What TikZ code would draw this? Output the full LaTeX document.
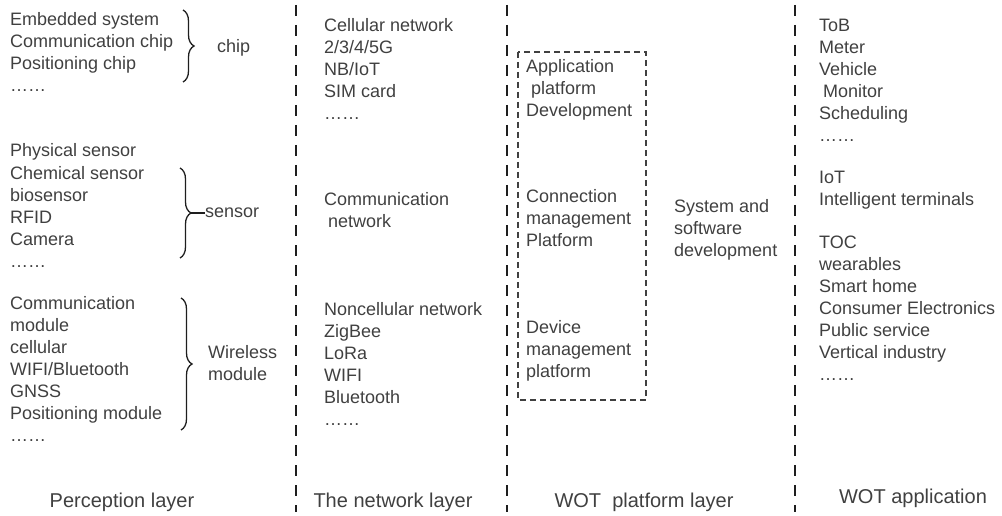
\documentclass[tikz,border=0pt]{standalone}
\usepackage{fontspec}
\setmainfont{Liberation Sans}
\usepackage{xcolor}
\usetikzlibrary{decorations.pathreplacing, positioning, calc}
\definecolor{txtgray}{HTML}{404040}
\definecolor{linegray}{HTML}{1E1E1E}

\begin{document}
\begin{tikzpicture}[x=1pt, y=-1pt,
    item/.style={anchor=base west, inner sep=0pt, font=\fontsize{18}{22}\selectfont, text=txtgray},
    layername/.style={anchor=base, inner sep=0pt, font=\fontsize{20}{24}\selectfont, text=txtgray},
    divider/.style={draw=linegray, line width=1.8pt, dash pattern=on 11pt off 9pt},
    curly/.style={draw=linegray, line width=1.3pt, decorate, decoration={brace, amplitude=11pt}},
    platbox/.style={draw=txtgray, line width=1.2pt, dash pattern=on 6pt off 4pt}]
    \useasboundingbox (0,0) rectangle (1002,516);

    % Layer dividers
    \foreach \x in {296, 507, 795} {
        \draw[divider] (\x,5) -- (\x,512);
    }

    % Perception layer items
    \foreach \label [count=\i] in {Embedded system, Communication chip, Positioning chip, ……}
        \node[item] (chip\i) at (10, 4+22*\i) {\label};
    \foreach \label [count=\i] in {Physical sensor, Chemical sensor, biosensor, RFID, Camera, ……}
        \node[item] (sens\i) at (10, 135+22*\i) {\label};
    \foreach \label [count=\i] in {Communication, module, cellular, {WIFI/Bluetooth}, GNSS, Positioning module, ……}
        \node[item] (wmod\i) at (10, 287+22*\i) {\label};

    % Braces and group names
    \coordinate (chipT) at (183,10);
    \coordinate (chipB) at (183,82);
    \draw[curly] (chipT) -- (chipB);
    \node[item] (chip) at (217,53) {chip};

    \coordinate (sensT) at (180,168);
    \coordinate (sensB) at (180,258);
    \draw[curly] (sensT) -- (sensB);
    \node[item] (sensor) at (205,218) {sensor};
    \coordinate (sensTip) at ($(sensT)!0.5!(sensB)+(11,0)$);
    \draw[linegray, line width=1.3pt] (sensTip) -- (sensTip -| sensor.west);

    \coordinate (wmodT) at (181,298);
    \coordinate (wmodB) at (181,430);
    \draw[curly] (wmodT) -- (wmodB);
    \node[item] (wireless) at (208,358) {Wireless};
    \node[item] (module) at (208,380) {module};

    % Network layer items
    \foreach \label [count=\i] in {Cellular network, {2/3/4/5G}, {NB/IoT}, SIM card, ……}
        \node[item] (cell\i) at (324, 10+22*\i) {\label};
    \foreach \label [count=\i] in {Communication, \hspace{4pt}network}
        \node[item] (comm\i) at (324, 183+22*\i) {\label};
    \foreach \label [count=\i] in {Noncellular network, ZigBee, LoRa, WIFI, Bluetooth, ……}
        \node[item] (ncell\i) at (324, 293+22*\i) {\label};

    % WOT platform layer
    \draw[platbox] (518,52) rectangle (646,400);
    \foreach \label [count=\i] in {Application, \hspace{5pt}platform, Development}
        \node[item] (appl\i) at (526, 51+22*\i) {\label};
    \foreach \label [count=\i] in {Connection, management, Platform}
        \node[item] (conn\i) at (526, 181+22*\i) {\label};
    \foreach \label [count=\i] in {Device, management, platform}
        \node[item] (dev\i) at (526, 311+22*\i) {\label};
    \foreach \label [count=\i] in {System and, software, development}
        \node[item] (sys\i) at (674, 190+22*\i) {\label};

    % WOT application items
    \foreach \label [count=\i] in {ToB, Meter, Vehicle, \hspace{4pt}Monitor, Scheduling, ……}
        \node[item] (tob\i) at (819, 10+22*\i) {\label};
    \foreach \label [count=\i] in {IoT, Intelligent terminals}
        \node[item] (iot\i) at (819, 162+22*\i) {\label};
    \foreach \label [count=\i] in {TOC, wearables, Smart home, Consumer Electronics, Public service, Vertical industry, ……}
        \node[item] (toc\i) at (819, 226+22*\i) {\label};

    % Layer names
    \node[layername] (perception) at (122,507) {Perception layer};
    \node[layername] (network) at (393,507) {The network layer};
    \node[layername] (platform) at (644,507) {WOT\ \ platform layer};
    \node[layername] (application) at (913,503) {WOT application};
\end{tikzpicture}
\end{document}
